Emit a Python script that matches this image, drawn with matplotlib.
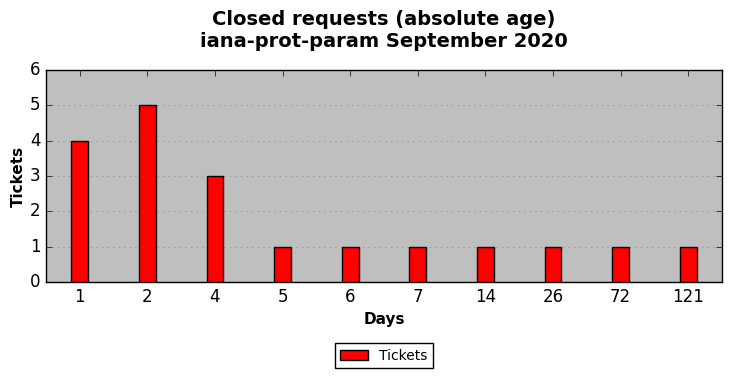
import matplotlib
matplotlib.use('Agg')
import matplotlib.pyplot as plt

plt.style.use('classic')

days = ['1', '2', '4', '5', '6', '7', '14', '26', '72', '121']
tickets = [4, 5, 3, 1, 1, 1, 1, 1, 1, 1]

fig = plt.figure(figsize=(7.32, 3.78), dpi=100)
fig.patch.set_facecolor('white')
ax = fig.add_axes([0.0628, 0.254, 0.9235, 0.5608])
ax.set_facecolor('#bfbfbf')

x = range(len(days))
ax.bar(x, tickets, width=0.25, color='red', edgecolor='black', align='center', label='Tickets', zorder=3)

ax.set_xlim(-0.5, len(days) - 0.5)
ax.set_ylim(0, 6)
ax.set_xticks(list(x))
ax.set_xticklabels(days)
ax.yaxis.grid(True, linestyle=':', color='#888888', zorder=0)
ax.xaxis.grid(False)
ax.set_axisbelow(True)

ax.set_xlabel('Days', fontsize=11, fontweight='bold')
ax.set_ylabel('Tickets', fontsize=11, fontweight='bold', labelpad=3)
ax.set_title('Closed requests (absolute age)\niana-prot-param September 2020',
             fontsize=14, fontweight='bold', y=1.078)

ax.legend(loc='upper center', bbox_to_anchor=(0.5, -0.255), fontsize=10, ncol=1)

fig.savefig('out.png', dpi=100, facecolor='white')
